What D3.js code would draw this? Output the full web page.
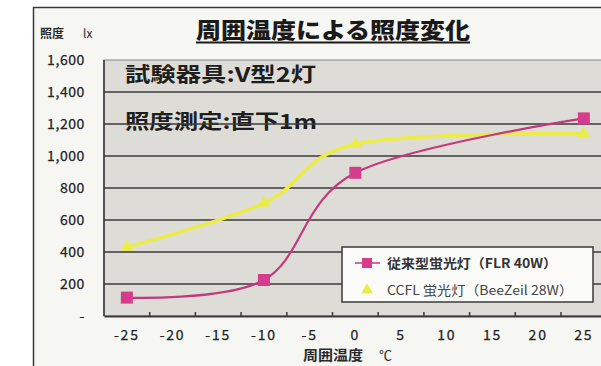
<!DOCTYPE html>
<html><head><meta charset="utf-8">
<script src="https://cdn.jsdelivr.net/npm/d3@7"></script>
<style>
html,body{margin:0;padding:0;background:#fff;}
svg{display:block;}
text{font-family:"Noto Sans CJK JP","Liberation Sans",Arial,sans-serif;}
</style></head>
<body>
<svg id="chart" width="601" height="366"></svg>
<script>
// ---- data ----
const categories = [-25,-20,-15,-10,-5,0,5,10,15,20,25];
const conventional = [115,null,null,225,null,895,null,null,null,null,1235];
const ccfl = [430,null,null,705,null,1075,null,null,null,null,1140];
const yTicks = [0,200,400,600,800,1000,1200,1400,1600];
const seriesNames = ["従来型蛍光灯（FLR 40W）","CCFL 蛍光灯（BeeZeil 28W）"];
const titleText = "周囲温度による照度変化";
const notes = ["試験器具:V型2灯","照度測定:直下1m"];

const svg = d3.select("#chart");

// chart area frame
svg.append("rect").attr("x",33.5).attr("y",7.5).attr("width",600).attr("height",400)
  .attr("fill","#f6f6f3").attr("stroke","#3a3a3a").attr("stroke-width",1.5);

const plot = {left:104, top:60, bottom:316};
const x = d3.scaleBand().domain(categories).range([plot.left, plot.left + 11*45.7]).padding(0);
const y = d3.scaleLinear().domain([0,1600]).range([plot.bottom, plot.top]);
const plotRight = plot.left + 11*45.7;

// plot background
svg.append("rect").attr("x",plot.left).attr("y",plot.top)
  .attr("width",plotRight-plot.left).attr("height",plot.bottom-plot.top)
  .attr("fill","#dddcd7").attr("stroke","#888").attr("stroke-width",1);

// annotations (beneath gridlines)
svg.append("text").attr("x",125).attr("y",82).attr("font-size",20).attr("font-weight",700)
  .attr("fill","#1e1e1e").attr("textLength",191).attr("lengthAdjust","spacingAndGlyphs").text(notes[0]);
svg.append("text").attr("x",125).attr("y",129).attr("font-size",20).attr("font-weight",700)
  .attr("fill","#1e1e1e").attr("textLength",192).attr("lengthAdjust","spacingAndGlyphs").text(notes[1]);

// gridlines
svg.append("g").selectAll("line").data(yTicks.filter(d=>d>0 && d<1600)).join("line")
  .attr("x1",plot.left).attr("x2",plotRight)
  .attr("y1",d=>y(d)).attr("y2",d=>y(d))
  .attr("stroke","#3a3a3a").attr("stroke-width",1.6);

// left axis line
svg.append("line").attr("x1",plot.left).attr("x2",plot.left).attr("y1",plot.top).attr("y2",plot.bottom)
  .attr("stroke","#3a3a3a").attr("stroke-width",1.6);

// y axis labels
const yAxis = d3.axisLeft(y).tickValues(yTicks).tickSize(0)
  .tickFormat(d => d===0 ? "-" : d3.format(",")(d));
const gy = svg.append("g").attr("transform",`translate(${plot.left-16},0)`).call(yAxis);
gy.select(".domain").remove();
gy.selectAll("text").attr("font-size",14).attr("fill","#222")
  .attr("font-family","'Liberation Sans',Arial,sans-serif").attr("letter-spacing","0.6px")
  .attr("stroke","#222").attr("stroke-width",0.25);

// x axis
const xAxis = d3.axisBottom(x).tickSize(0).tickPadding(14);
const gx = svg.append("g").attr("transform",`translate(0,${plot.bottom})`).call(xAxis);
gx.select(".domain").attr("stroke","#3a3a3a").attr("stroke-width",1.8);
gx.selectAll("text").attr("font-size",14).attr("fill","#222")
  .attr("font-family","'Liberation Sans',Arial,sans-serif").attr("letter-spacing","1.8px")
  .attr("stroke","#222").attr("stroke-width",0.25);
// inner tick marks at band boundaries
svg.append("g").selectAll("line").data(categories.slice(1)).join("line")
  .attr("x1",d=>x(d)).attr("x2",d=>x(d)).attr("y1",plot.bottom).attr("y2",plot.bottom-4)
  .attr("stroke","#3a3a3a").attr("stroke-width",1.5);

// title
svg.append("text").attr("x",196).attr("y",38).attr("font-size",22).attr("font-weight",900)
  .attr("fill","#1a1a1a").attr("textLength",274).attr("lengthAdjust","spacingAndGlyphs").text(titleText);
svg.append("line").attr("x1",196).attr("x2",470).attr("y1",42.5).attr("y2",42.5)
  .attr("stroke","#1a1a1a").attr("stroke-width",2);

// y axis unit label
svg.append("text").attr("x",40).attr("y",38).attr("font-size",12).attr("font-weight",700)
  .attr("fill","#2a2a2a").text("照度");
svg.append("text").attr("x",83).attr("y",38).attr("font-size",12)
  .attr("fill","#2a2a2a").attr("font-family","'Liberation Sans',Arial,sans-serif").text("lx");

// x axis title
svg.append("text").attr("x",303).attr("y",360).attr("font-size",14).attr("font-weight",700)
  .attr("fill","#2a2a2a").attr("textLength",60).attr("lengthAdjust","spacingAndGlyphs").text("周囲温度");
svg.append("text").attr("x",379).attr("y",360).attr("font-size",13)
  .attr("fill","#2a2a2a").text("℃");

// lines
const line = d3.line().defined(d=>d.v!=null)
  .x(d=>x(d.c)+x.bandwidth()/2).y(d=>y(d.v)).curve(d3.curveCardinal.tension(0));
const ser1 = categories.map((c,i)=>({c, v:conventional[i]})).filter(d=>d.v!=null);
const ser2 = categories.map((c,i)=>({c, v:ccfl[i]})).filter(d=>d.v!=null);

const pink = "#d63c8c", pinkLine = "#c4387c", yellow = "#ecec46";
svg.append("path").datum(ser2).attr("d",line).attr("fill","none").attr("stroke",yellow).attr("stroke-width",3.5);
svg.append("path").datum(ser1).attr("d",line).attr("fill","none").attr("stroke",pinkLine).attr("stroke-width",2.2);

const tri = d3.symbol().type(d3.symbolTriangle).size(70);
svg.append("g").selectAll("path").data(ser2).join("path")
  .attr("transform",d=>`translate(${x(d.c)+x.bandwidth()/2},${y(d.v)})`)
  .attr("d",tri).attr("fill",yellow);
svg.append("g").selectAll("rect").data(ser1).join("rect")
  .attr("x",d=>x(d.c)+x.bandwidth()/2-6).attr("y",d=>y(d.v)-6)
  .attr("width",12).attr("height",12).attr("fill",pink);

// legend
const lg = svg.append("g");
lg.append("rect").attr("x",342).attr("y",247).attr("width",251).attr("height",55)
  .attr("fill","#fbfbf9").attr("stroke","#3a3a3a").attr("stroke-width",1.5);
lg.append("line").attr("x1",355).attr("x2",380).attr("y1",263).attr("y2",263).attr("stroke",pinkLine).attr("stroke-width",1.5);
lg.append("rect").attr("x",362).attr("y",258).attr("width",10).attr("height",10).attr("fill",pink);
lg.append("path").attr("transform","translate(367,290)").attr("d",d3.symbol().type(d3.symbolTriangle).size(60)).attr("fill",yellow);
lg.append("text").attr("x",387).attr("y",268).attr("font-size",13).attr("font-weight",700).attr("fill","#333")
  .attr("textLength",170).attr("lengthAdjust","spacingAndGlyphs").text(seriesNames[0]);
lg.append("text").attr("x",387).attr("y",295).attr("font-size",13).attr("fill","#444")
  .attr("textLength",186).attr("lengthAdjust","spacingAndGlyphs").text(seriesNames[1]);
</script>
</body></html>
